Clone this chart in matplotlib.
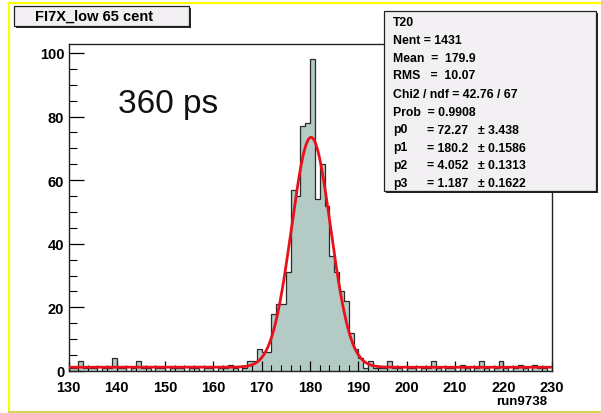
import numpy as np
import matplotlib
matplotlib.use("Agg")
import matplotlib.pyplot as plt
from matplotlib.patches import Rectangle
from matplotlib.ticker import MultipleLocator

plt.rcParams['font.family'] = ['Liberation Sans', 'DejaVu Sans']

# histogram: 1-unit bins from 130 to 230 (counts)
bin_lo = 130
bin_hi = 230
counts = [1, 1, 3, 1, 1, 1, 0, 1, 1, 4,    # 130-139
          1, 1, 0, 1, 3, 1, 1, 0, 1, 1,    # 140-149
          0, 1, 1, 1, 0, 1, 1, 0, 1, 1,    # 150-159
          0, 1, 1, 2, 1, 0, 1, 3, 3, 7,    # 160-169
          6, 6, 18, 21, 21, 31, 57, 55, 77, 78,   # 170-179
          98, 54, 65, 52, 36, 31, 25, 22, 12, 7,  # 180-189
          4, 1, 3, 1, 1, 1, 3, 1, 1, 0,    # 190-199
          1, 1, 0, 1, 1, 3, 1, 0, 1, 1,    # 200-209
          0, 2, 1, 0, 1, 3, 1, 0, 1, 3,    # 210-219
          1, 0, 1, 2, 1, 0, 2, 1, 1, 0]    # 220-229

# fit result shown in the stats box (gaus + const)
p0, p1, p2, p3 = 72.27, 180.2, 4.052, 1.187

title = "FI7X_low 65 cent"
note = "360 ps"
run_label = "run9738"
stats_lines = ["T20", "Nent = 1431", "Mean  =  179.9", "RMS   =  10.07",
               "Chi2 / ndf = 42.76 / 67", "Prob  = 0.9908"]
par_names = ["p0", "p1", "p2", "p3"]
par_vals = ["= 72.27", "= 180.2", "= 4.052", "= 1.187"]
par_errs = ["\u00b1 3.438", "\u00b1 0.1586", "\u00b1 0.1313", "\u00b1 0.1622"]

W, H = 601, 414
fig = plt.figure(figsize=(W / 100, H / 100), dpi=100)
fig.patch.set_facecolor('white')

def fx(px):
    return px / W

def fy(py):
    return 1 - py / H

ax = fig.add_axes([fx(68.5), fy(372), fx(551.7) - fx(68.5), fy(45) - fy(372)])

edges = np.arange(bin_lo, bin_hi + 1)
ax.stairs(counts, edges, fill=True, color='#b3cbc4', zorder=1)
ax.stairs(counts, edges, color='#2a2a2a', lw=0.9, zorder=2)

xf = np.linspace(bin_lo, bin_hi, 600)
yf = p0 * np.exp(-0.5 * ((xf - p1) / p2) ** 2) + p3
ax.plot(xf, yf, color='#e8101a', lw=2.0, zorder=3)

ax.set_xlim(130, 230)
ax.set_ylim(0, 102.8)
ax.xaxis.set_major_locator(MultipleLocator(10))
ax.xaxis.set_minor_locator(MultipleLocator(2))
ax.yaxis.set_major_locator(MultipleLocator(20))
ax.yaxis.set_minor_locator(MultipleLocator(5))
ax.tick_params(axis='x', which='major', direction='in', length=7, width=0.9,
               pad=6.5, labelsize=10.5)
ax.tick_params(axis='x', which='minor', direction='in', length=4, width=0.8)
ax.tick_params(axis='y', which='major', direction='in', length=11, width=0.9,
               pad=3, labelsize=10.5)
ax.tick_params(axis='y', which='minor', direction='in', length=5.5, width=0.8)
for lab in ax.get_xticklabels() + ax.get_yticklabels():
    lab.set_fontweight('bold')
for s in ax.spines.values():
    s.set_linewidth(1.0)
    s.set_color('#222222')

ax.text(fx(118), fy(104), note, transform=fig.transFigure, fontsize=24,
        va='center', ha='left', color='#111111')
fig.text(fx(546.7), fy(396), run_label, ha='right', va='top',
         fontsize=9.5, fontweight='bold')

# yellow frame round the canvas
fig.add_artist(plt.Line2D([fx(8.5), fx(8.5)], [fy(4), fy(412.5)],
                          transform=fig.transFigure, color='#ffff00', lw=1.6))
fig.add_artist(plt.Line2D([fx(8.5), 1], [fy(4), fy(4)],
                          transform=fig.transFigure, color='#ffff00', lw=1.6))
fig.add_artist(plt.Line2D([fx(8.5), 1], [fy(412.5), fy(412.5)],
                          transform=fig.transFigure, color='#d6d65a', lw=1.6))

def box(x0, y0, x1, y1):
    # ROOT style pave with a shadow on the right and bottom
    fig.add_artist(Rectangle((fx(x0 + 2), fy(y1 + 2)), fx(x1) - fx(x0),
                             fy(y0) - fy(y1), transform=fig.transFigure,
                             facecolor='#222222', edgecolor='none', zorder=5))
    fig.add_artist(Rectangle((fx(x0), fy(y1)), fx(x1) - fx(x0),
                             fy(y0) - fy(y1), transform=fig.transFigure,
                             facecolor='#f2f0f2', edgecolor='#222222',
                             lw=0.9, zorder=6))

box(13.5, 6.5, 189, 26.5)
fig.text(fx(35), fy(17), title, fontsize=10.5, fontweight='bold',
         va='center', ha='left', zorder=7)

box(383.5, 11.5, 596, 192)
row_y = [22.5, 40.5, 58.5, 76.5, 94.5, 112.5, 130.5, 148.5, 166.5, 184]
for i, line in enumerate(stats_lines):
    fig.text(fx(393), fy(row_y[i]), line, fontsize=8.8, fontweight='bold',
             va='center', ha='left', zorder=7)
for j in range(4):
    yy = fy(row_y[6 + j])
    fig.text(fx(393), yy, par_names[j], fontsize=8.8, fontweight='bold',
             va='center', ha='left', zorder=7)
    fig.text(fx(427), yy, par_vals[j], fontsize=8.8, fontweight='bold',
             va='center', ha='left', zorder=7)
    fig.text(fx(478), yy, par_errs[j], fontsize=8.8, fontweight='bold',
             va='center', ha='left', zorder=7)

fig.savefig("out.png", dpi=100)
